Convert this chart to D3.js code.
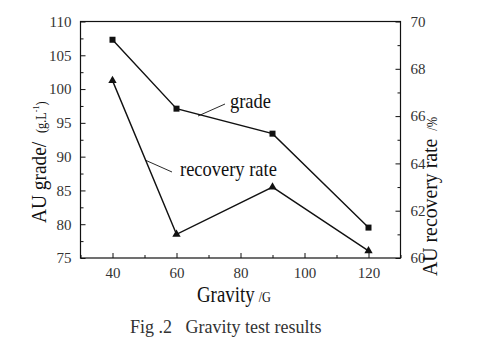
<!DOCTYPE html>
<html>
<head>
<meta charset="utf-8">
<script src="https://cdn.jsdelivr.net/npm/d3@7"></script>
<style>
  body { margin: 0; background: #fff; }
  svg text { font-family: "Liberation Serif", "Times New Roman", serif; }
</style>
</head>
<body>
<svg id="chart" width="480" height="345"></svg>
<script>
// Gravity (G) settings tested
const gravity = [40, 60, 90, 120];
// Gold grade of concentrate, g/L
const grade = [107.3, 97.1, 93.4, 79.5];
// Gold recovery rate, %
const recovery = [67.5, 61.0, 63.0, 60.3];

const xTicks = [40, 60, 80, 100, 120];
const gradeTicks = [75, 80, 85, 90, 95, 100, 105, 110];
const recTicks = [60, 62, 64, 66, 68, 70];

const svg = d3.select("#chart");
const L = 80.5, R = 400.5, T = 21.5, B = 258;

const x = d3.scaleLinear().domain([30, 130]).range([L, R]);
const yL = d3.scaleLinear().domain([75, 110]).range([B, T]);
const yR = d3.scaleLinear().domain([60, 70]).range([B, T]);

const ink = "#111";
const labelInk = "#333";

// frame
svg.append("rect").attr("x", L).attr("y", T).attr("width", R - L).attr("height", B - T)
  .attr("fill", "none").attr("stroke", ink).attr("stroke-width", 1.2);

function styleAxis(g) {
  g.select(".domain").remove();
  g.selectAll("line").attr("stroke", ink).attr("stroke-width", 1);
  g.selectAll("text").attr("fill", labelInk).attr("font-size", 15)
    .attr("font-family", "Liberation Serif, serif");
}

// bottom axis: major ticks inward, minor ticks between
const xMinor = d3.range(30, 131, 10).filter(v => !xTicks.includes(v));
svg.append("g").attr("transform", `translate(0,${B})`)
  .call(d3.axisBottom(x).tickValues(xMinor).tickSize(-3).tickFormat(""))
  .call(styleAxis);
svg.append("g").attr("transform", `translate(0,${B})`)
  .call(d3.axisBottom(x).tickValues(xTicks).tickSizeInner(-5).tickSizeOuter(0).tickPadding(9))
  .call(styleAxis);

// left axis
const yLMinor = d3.range(77.5, 110, 5);
svg.append("g").attr("transform", `translate(${L},0)`)
  .call(d3.axisLeft(yL).tickValues(yLMinor).tickSize(-3).tickFormat(""))
  .call(styleAxis);
svg.append("g").attr("transform", `translate(${L},0)`)
  .call(d3.axisLeft(yL).tickValues(gradeTicks).tickSizeInner(-5).tickSizeOuter(0).tickPadding(9))
  .call(styleAxis);

// right axis
const yRMinor = d3.range(61, 70, 2);
svg.append("g").attr("transform", `translate(${R},0)`)
  .call(d3.axisRight(yR).tickValues(yRMinor).tickSize(-3).tickFormat(""))
  .call(styleAxis);
svg.append("g").attr("transform", `translate(${R},0)`)
  .call(d3.axisRight(yR).tickValues(recTicks).tickSizeInner(-5).tickSizeOuter(0).tickPadding(10))
  .call(styleAxis);

// series lines
const gradePts = gravity.map((g, i) => [x(g), yL(grade[i])]);
const recPts = gravity.map((g, i) => [x(g), yR(recovery[i])]);
const line = d3.line();
svg.append("path").attr("d", line(gradePts)).attr("fill", "none").attr("stroke", ink).attr("stroke-width", 1.4);
svg.append("path").attr("d", line(recPts)).attr("fill", "none").attr("stroke", ink).attr("stroke-width", 1.4);

// markers
svg.selectAll(".sq").data(gradePts).join("rect")
  .attr("x", d => d[0] - 3).attr("y", d => d[1] - 3).attr("width", 6).attr("height", 6).attr("fill", ink);
const tri = d3.symbol().type(d3.symbolTriangle).size(30);
svg.selectAll(".tri").data(recPts).join("path")
  .attr("d", tri).attr("transform", d => `translate(${d[0]},${d[1]})`).attr("fill", ink);

// series annotations with leader lines
svg.append("line").attr("x1", 198).attr("y1", 116).attr("x2", 225).attr("y2", 104)
  .attr("stroke", ink).attr("stroke-width", 0.9);
svg.append("text").attr("x", 230).attr("y", 108).attr("font-size", 21).attr("fill", "#111")
  .attr("transform", "translate(230,0) scale(0.88,1) translate(-230,0)").text("grade");

svg.append("line").attr("x1", 145).attr("y1", 160).attr("x2", 172).attr("y2", 172)
  .attr("stroke", ink).attr("stroke-width", 0.9);
svg.append("text").attr("x", 180).attr("y", 176).attr("font-size", 21).attr("fill", "#111")
  .attr("transform", "translate(180,0) scale(0.88,1) translate(-180,0)").text("recovery rate");

// left axis title
const lt = svg.append("text").attr("transform", "translate(46,223) rotate(-90) scale(0.88,1)")
  .attr("fill", "#111");
lt.append("tspan").attr("font-size", 22).text("AU grade/");
lt.append("tspan").attr("font-size", 14).attr("dx", 10).text("(g.L");
lt.append("tspan").attr("font-size", 9).attr("dy", -7).text("-1");
lt.append("tspan").attr("font-size", 14).attr("dy", 7).text(")");

// right axis title
const rt = svg.append("text").attr("transform", "translate(437,276) rotate(-90) scale(0.9,1)")
  .attr("fill", "#111");
rt.append("tspan").attr("font-size", 22).text("AU recovery rate");
rt.append("tspan").attr("font-size", 14).attr("dx", 9).text("/%");

// x axis title
const xt = svg.append("text").attr("transform", "translate(197,302) scale(0.82,1)").attr("fill", "#111");
xt.append("tspan").attr("font-size", 23).text("Gravity");
xt.append("tspan").attr("font-size", 15).attr("dx", 5).text("/G");

// caption
svg.append("text").attr("x", 130).attr("y", 333).attr("font-size", 18).attr("fill", "#333")
  .attr("xml:space", "preserve").text("Fig .2   Gravity test results");
</script>
</body>
</html>
